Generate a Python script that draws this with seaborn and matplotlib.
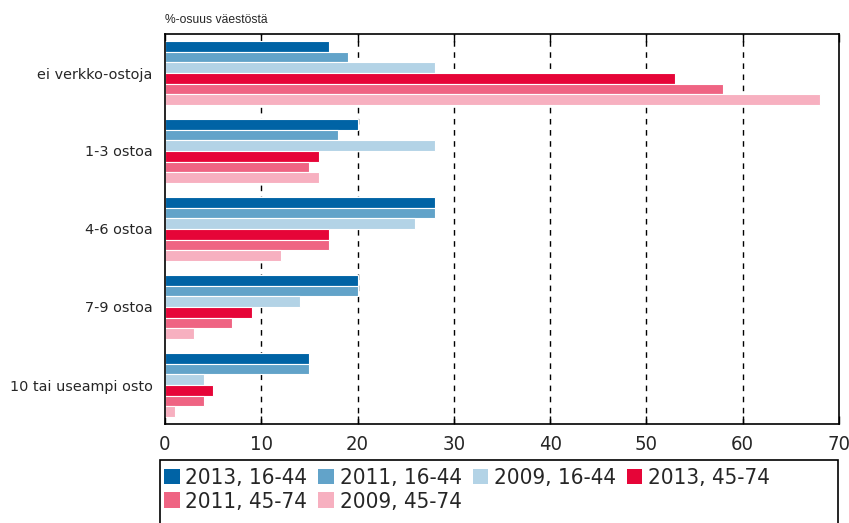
import matplotlib
matplotlib.use("Agg")
import matplotlib.pyplot as plt
import seaborn as sns
import pandas as pd
from matplotlib.patches import Patch, Rectangle

categories = ["ei verkko-ostoja", "1-3 ostoa", "4-6 ostoa", "7-9 ostoa", "10 tai useampi osto"]
series = ["2013, 16-44", "2011, 16-44", "2009, 16-44", "2013, 45-74", "2011, 45-74", "2009, 45-74"]
v2013_young = [17, 20, 28, 20, 15]
v2011_young = [19, 18, 28, 20, 15]
v2009_young = [28, 28, 26, 14, 4]
v2013_old = [53, 16, 17, 9, 5]
v2011_old = [58, 15, 17, 7, 4]
v2009_old = [68, 16, 12, 3, 1]
xticks = [0, 10, 20, 30, 40, 50, 60, 70]
colors = ["#0063a5", "#62a3c9", "#b3d3e6", "#e60538", "#ef6483", "#f7b0c0"]

values = [v2013_young, v2011_young, v2009_young, v2013_old, v2011_old, v2009_old]
rows = []
for s, vals in zip(series, values):
    for c, v in zip(categories, vals):
        rows.append({"kategoria": c, "sarja": s, "arvo": v})
df = pd.DataFrame(rows)

sns.set_style("white")
plt.rcParams["font.family"] = ["Liberation Sans", "DejaVu Sans"]

fig = plt.figure(figsize=(8.49, 5.23), dpi=100)
W, H = 849, 523
ax = fig.add_axes([165 / W, 1 - 424 / H, (839 - 165) / W, (424 - 34) / H])

sns.barplot(data=df, y="kategoria", x="arvo", hue="sarja", order=categories,
            hue_order=series, palette=colors, orient="h", width=0.82,
            edgecolor="white", linewidth=0.8, saturation=1, ax=ax, legend=False)

ax.set_xlim(0, 70)
ax.set_ylim(4.5, -0.5)
ax.set_xticks(xticks)
ax.set_xticklabels([str(t) for t in xticks], fontsize=14.5,
                   fontfamily="DejaVu Sans", fontstretch="condensed")
ax.set_xlabel("")
ax.set_ylabel("")
ax.tick_params(axis="x", direction="in", top=True, bottom=True, length=6, width=1,
               color="black", pad=8)
ax.tick_params(axis="y", length=0, pad=9)
for lab in ax.get_yticklabels():
    lab.set_fontfamily("DejaVu Sans")
    lab.set_fontsize(10.4)
for t in xticks[1:-1]:
    ax.axvline(t, color="black", linestyle=(0, (4, 4)), linewidth=1, zorder=0)
for sp in ax.spines.values():
    sp.set_visible(True)
    sp.set_color("black")
    sp.set_linewidth(1.2)
ax.set_axisbelow(True)

fig.text(165 / W, 1 - 20 / H, "%-osuus väestöstä", fontsize=8.7, ha="left", va="center")

order = [0, 4, 1, 5, 2, 3]
handles = [Patch(facecolor=colors[i], edgecolor="none") for i in order]
labels = [series[i] for i in order]
leg = fig.legend(handles, labels, ncol=4, loc="upper left",
                 bbox_to_anchor=(162 / W, 1 - 466 / H),
                 frameon=False, handlelength=0.7, handleheight=0.7,
                 handletextpad=0.25, columnspacing=0.5, borderpad=0.1,
                 labelspacing=0.15, borderaxespad=0,
                 prop={"family": "DejaVu Sans", "stretch": "condensed", "size": 16})
fig.patches.append(Rectangle((160 / W, -0.02), (838 - 160) / W, 0.02 + (523 - 460) / H,
                             transform=fig.transFigure, fill=False,
                             edgecolor="black", linewidth=1.2))

fig.savefig("out.png", dpi=100)
